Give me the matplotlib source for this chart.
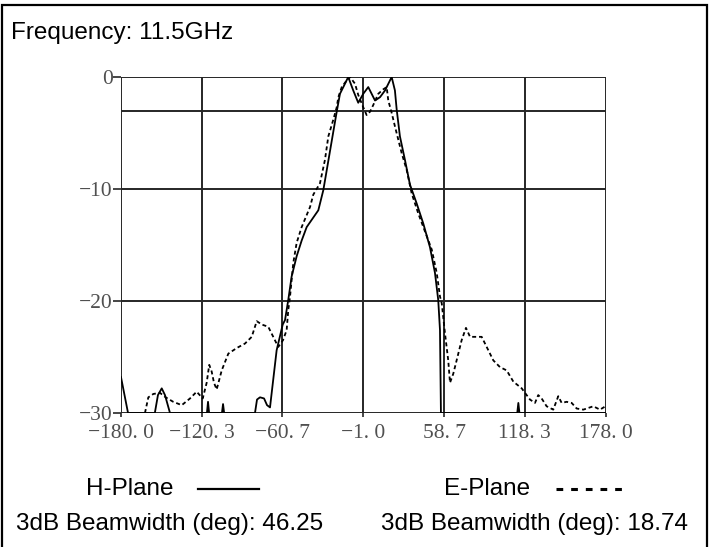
import matplotlib
matplotlib.use("Agg")
import matplotlib.pyplot as plt
from matplotlib.patches import Rectangle
from matplotlib.lines import Line2D

# ---- data ----
x_ticks = [-180.0, -120.3, -60.7, -1.0, 58.7, 118.3, 178.0]
x_tick_labels = ["\u2212180. 0", "\u2212120. 3", "\u221260. 7", "\u22121. 0", "58. 7", "118. 3", "178. 0"]
y_ticks = [0, -10, -20, -30]
y_tick_labels = ["0", "\u221210", "\u221220", "\u221230"]
h_grid_extra = [-3]

h_angle = [-180, -174.8, -155.0, -152.7, -149.9, -147.5, -143.8, -116.5, -115.7, -114.9,
           -105.4, -104.6, -103.8, -81.0, -79.5, -77.3, -74.3, -72.1, -69.9, -65.0,
           -60.5, -58.8, -56.4, -53.9, -50.2, -46.5, -42.8, -34.2, -30.5, -20.6,
           -18.2, -14.5, -12.1, -8.4, -4.7, -1.0, 2.7, 7.7, 11.4, 15.1,
           20.0, 22.4, 23.7, 26.1, 29.8, 33.5, 38.5, 43.4, 48.3, 52.0,
           54.4, 55.7, 56.4, 112.8, 113.6, 114.4, 178.0]
h_db = [-26.8, -30, -30, -28.4, -27.8, -28.4, -30, -30, -29.0, -30,
        -30, -29.2, -30, -30, -28.8, -28.6, -28.7, -29.3, -29.5, -24.4,
        -22.1, -21.7, -19.9, -17.8, -16.0, -14.6, -13.4, -11.9, -10.1, -3.1,
        -1.5, -0.6, 0.0, -1.2, -2.3, -1.5, -0.9, -2.1, -1.8, -1.2,
        0.0, -1.2, -2.9, -5.3, -7.4, -9.6, -11.3, -13.1, -15.2, -17.5,
        -19.9, -22.6, -30, -30, -29.1, -30, -30]

e_angle = [-162.3, -159.8, -156.1, -151.2, -147.0, -141.4, -135.1, -129.0, -124.1, -119.6,
           -116.7, -114.8, -113.0, -111.3, -109.3, -105.6, -100.7, -94.5, -88.4, -83.4,
           -79.7, -76.0, -71.2, -67.5, -63.8, -60.3, -57.6, -56.4, -55.1, -53.9,
           -52.7, -50.2, -46.5, -40.3, -37.9, -33.0, -29.3, -26.8, -23.1, -20.6,
           -19.4, -16.9, -13.2, -10.8, -7.1, -4.7, -1.0, 1.5, 4.0, 6.4,
           10.1, 13.8, 16.3, 17.5, 20.0, 22.4, 24.9, 27.4, 31.1, 34.8,
           39.7, 43.4, 49.6, 53.3, 55.7, 57.0, 59.4, 61.8, 63.1, 65.5,
           68.0, 71.7, 74.9, 77.9, 82.8, 86.5, 90.2, 95.1, 100.0, 105.0,
           109.9, 116.1, 118.5, 122.2, 125.9, 128.3, 130.8, 134.5, 139.4, 143.1,
           145.6, 149.3, 153.0, 156.7, 161.6, 169.0, 173.9, 178.0]
e_db = [-30, -28.6, -28.3, -28.2, -28.6, -29.0, -29.3, -28.7, -28.1, -28.7,
        -27.3, -25.7, -26.3, -27.3, -27.9, -26.2, -24.7, -24.2, -23.8, -23.2,
        -21.8, -22.1, -22.3, -23.2, -24.1, -23.5, -22.6, -20.8, -19.6, -18.1,
        -16.6, -14.8, -13.4, -11.6, -10.5, -9.5, -7.4, -5.3, -3.8, -2.7,
        -1.8, -0.9, -0.3, 0.0, -0.6, -1.6, -2.7, -3.4, -3.1, -2.5,
        -1.5, -1.1, -0.9, -2.1, -3.2, -4.4, -5.6, -6.8, -8.3, -10.4,
        -12.2, -13.4, -15.4, -17.5, -19.6, -20.2, -22.9, -25.3, -27.3, -26.5,
        -25.3, -23.5, -22.4, -23.2, -23.2, -23.2, -24.1, -25.3, -25.9, -26.2,
        -27.2, -27.8, -28.2, -28.8, -29.1, -28.4, -28.7, -29.4, -29.7, -28.5,
        -29.1, -29.0, -29.1, -29.6, -29.7, -29.4, -29.7, -29.4]

freq_text = "Frequency: 11.5GHz"
h_name, e_name = "H-Plane", "E-Plane"
h_bw, e_bw = 46.25, 18.74

# ---- figure ----
W, H = 712, 547
fig = plt.figure(figsize=(W / 100, H / 100), dpi=100)
fig.patch.set_facecolor("white")

def fx(px):
    return px / W

def fy(py):
    return 1 - py / H

ax = fig.add_axes([fx(121), fy(413), (605.5 - 121) / W, (413 - 77) / H])
grid_c = "#262626"
ax.plot(h_angle, h_db, color="black", lw=1.3, solid_joinstyle="round", zorder=3)
ax.plot(e_angle, e_db, color="black", lw=1.3, linestyle=(0, (2.2, 1.6)), zorder=3)

ax.set_xlim(-180, 178)
ax.set_ylim(-30, 0)
ax.set_xticks(x_ticks)
ax.set_xticklabels(x_tick_labels)
ax.set_yticks(y_ticks)
ax.set_yticklabels(y_tick_labels)
for v in x_ticks:
    ax.axvline(v, color=grid_c, lw=1.4, zorder=1)
for v in y_ticks + h_grid_extra:
    ax.axhline(v, color=grid_c, lw=1.4, zorder=1)
for s in ax.spines.values():
    s.set_visible(False)
ax.tick_params(axis="y", length=6, width=1.2, color=grid_c, pad=0, labelsize=15.5, labelcolor="#505050")
ax.tick_params(axis="x", length=3, width=1.2, color=grid_c, pad=5, labelsize=15.5, labelcolor="#505050")
for lab in ax.get_xticklabels() + ax.get_yticklabels():
    lab.set_family("Liberation Serif")

# ---- outer frame ----
fig.patches.append(Rectangle((fx(2), -0.02), fx(707) - fx(2), fy(5) + 0.02,
                             transform=fig.transFigure, fill=False, ec="black", lw=1.6))

tf = dict(family="Liberation Sans", fontsize=17.5, color="black", va="center")
fig.text(fx(11), fy(33), freq_text, ha="left", **tf)
fig.text(fx(86), fy(489), h_name, ha="left", **tf)
fig.text(fx(444), fy(489), e_name, ha="left", **tf)
fig.text(fx(16), fy(524), f"3dB Beamwidth (deg): {h_bw}", ha="left", **tf)
fig.text(fx(381), fy(524), f"3dB Beamwidth (deg): {e_bw}", ha="left", **tf)

fig.lines.append(Line2D([fx(198), fx(259)], [fy(489), fy(489)], transform=fig.transFigure,
                        color="black", lw=1.6))
fig.lines.append(Line2D([fx(556), fx(622)], [fy(489), fy(489)], transform=fig.transFigure,
                        color="black", lw=2.2, linestyle=(0, (2.2, 2.6))))

fig.savefig("out.png", dpi=100, facecolor="white")
